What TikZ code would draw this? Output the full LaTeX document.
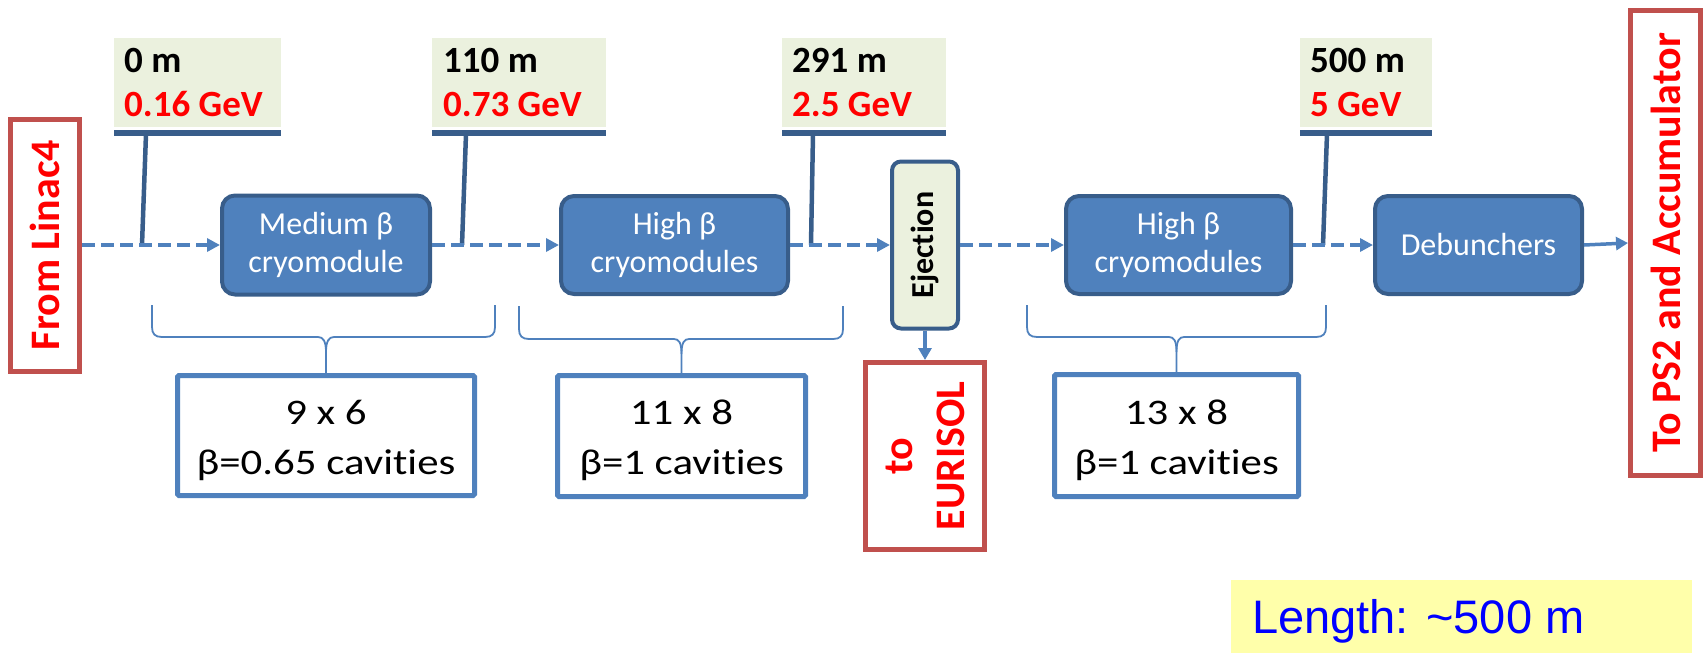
\documentclass[tikz,border=0pt]{standalone}
\usepackage{fontspec}
\setmainfont{Carlito}[Ligatures=NoCommon]
\newfontfamily\arialfont{Liberation Sans}
\usetikzlibrary{arrows.meta}

\definecolor{boxblue}{HTML}{4F81BD}
\definecolor{boxedge}{HTML}{385D8A}
\definecolor{outred}{HTML}{C0504D}
\definecolor{tagfill}{HTML}{EBF1DE}
\definecolor{notefill}{HTML}{FFFFAA}
\definecolor{notetext}{HTML}{0000FF}

\newcommand{\fsz}[1]{\fontsize{#1}{#1}\selectfont}
\newcommand{\wide}[1]{\scalebox{1.19}[1]{#1}}

\tikzset{
  cryo/.style={draw=boxedge, line width=4pt, fill=boxblue, rounded corners=13pt,
    text=white, align=center, inner sep=0pt, font=\fontsize{32}{38}\selectfont},
  ejbox/.style={draw=boxedge, line width=4pt, fill=tagfill, rounded corners=9pt, inner sep=0pt},
  outbox/.style={draw=outred, line width=5pt, fill=white, inner sep=0pt},
  outtext/.style={rotate=90, text=red, font=\bfseries\fsz{42}, inner sep=0pt},
  countbox/.style={draw=boxblue, line width=5pt, fill=white, inner sep=0pt, rounded corners=1.5pt},
  counttext/.style={anchor=base, inner sep=0pt, font=\fsz{36}},
  tag/.style={fill=tagfill, inner sep=0pt, minimum height=89pt},
  tagbar/.style={fill=boxedge, inner sep=0pt, minimum height=6pt},
  tagtext/.style={anchor=base west, inner sep=0pt, font=\bfseries\fsz{37}},
  stem/.style={draw=boxedge, line width=4.5pt},
  beam/.style={draw=boxblue, line width=4pt, dash pattern=on 13pt off 6pt,
    -{Triangle[length=13pt,width=13pt]}},
  beamsolid/.style={draw=boxblue, line width=3.5pt, -{Triangle[length=12pt,width=13pt]}},
  brace/.style={draw=boxblue, line width=1.8pt},
}

\begin{document}
\begin{tikzpicture}[x=1pt, y=-1pt]
\useasboundingbox (0,0) rectangle (1703,653);

% ---- source and destinations
\node[outbox, minimum width=69pt, minimum height=252pt] (linac) at (45,245) {};
\node[outtext] (linactxt) at (linac.center) {From Linac4};

\node[outbox, minimum width=70pt, minimum height=465pt] (ps2) at (1665.5,243) {};
\node[outtext] (ps2txt) at (ps2.center) {To PS2 and Accumulator};

\node[outbox, minimum width=119pt, minimum height=187pt] (euri) at (925,456) {};
\node[outtext, align=center, font=\bfseries\fontsize{42}{52}\selectfont] (euritxt) at (euri.center) {to\\EURISOL};

% ---- accelerating sections
\node[cryo, minimum width=208pt, minimum height=99pt] (med) at (326,245) {Medium β\\cryomodule};
\node[cryo, minimum width=227pt, minimum height=98pt] (hi1) at (674.5,245) {High β\\cryomodules};
\node[ejbox, minimum width=66pt, minimum height=167pt] (ej) at (925,245) {};
\node[rotate=90, inner sep=0pt, font=\bfseries\fsz{32}] (ejtxt) at (ej.center) {Ejection};
\node[cryo, minimum width=225pt, minimum height=98pt] (hi2) at (1178.5,245) {High β\\cryomodules};
\node[cryo, minimum width=207pt, minimum height=98pt] (deb) at (1478.5,245) {Debunchers};

% ---- position / energy tags
\node[tag, minimum width=167pt] (t1) at (197.5,82.5) {};
\node[tagbar, minimum width=167pt] (b1) at (197.5,133) {};
\node[tagtext] (t1a) at (124,72) {0 m};
\node[tagtext, text=red] (t1b) at (124,116) {0.16 GeV};

\node[tag, minimum width=174pt] (t2) at (519,82.5) {};
\node[tagbar, minimum width=174pt] (b2) at (519,133) {};
\node[tagtext] (t2a) at (443,72) {110 m};
\node[tagtext, text=red] (t2b) at (443,116) {0.73 GeV};

\node[tag, minimum width=164pt] (t3) at (864,82.5) {};
\node[tagbar, minimum width=164pt] (b3) at (864,133) {};
\node[tagtext] (t3a) at (792,72) {291 m};
\node[tagtext, text=red] (t3b) at (792,116) {2.5 GeV};

\node[tag, minimum width=132pt] (t4) at (1366,82.5) {};
\node[tagbar, minimum width=132pt] (b4) at (1366,133) {};
\node[tagtext] (t4a) at (1310,72) {500 m};
\node[tagtext, text=red] (t4b) at (1310,116) {5 GeV};

% tag stems down to the beam line
\coordinate (s1t) at (146,134); \coordinate (s1b) at (142,245);
\coordinate (s2t) at (466,134); \coordinate (s2b) at (462,245);
\coordinate (s3t) at (813,134); \coordinate (s3b) at (811,245);
\coordinate (s4t) at (1327,134); \coordinate (s4b) at (1323,245);
\draw[stem] (s1t) -- (s1b);
\draw[stem] (s2t) -- (s2b);
\draw[stem] (s3t) -- (s3b);
\draw[stem] (s4t) -- (s4b);

% ---- beam line
\draw[beam] (linac.east) -- (med.west);
\draw[beam] (med.east) -- (hi1.west);
\draw[beam] (hi1.east) -- (ej.west);
\draw[beam] (ej.east) -- (hi2.west);
\draw[beam] (hi2.east) -- (deb.west);
\draw[beamsolid] (deb.east) -- (ps2.west);
\draw[beamsolid] (ej.south) -- (euri.north);

% ---- cavity counts
\node[countbox, minimum width=297pt, minimum height=120pt] (c1) at (326,435.5) {};
\node[counttext] (c1a) at (326,424) {\wide{9 x 6}};
\node[counttext] (c1b) at (326,474) {\wide{β=0.65 cavities}};

\node[countbox, minimum width=248pt, minimum height=121pt] (c2) at (681.5,436) {};
\node[counttext] (c2a) at (681.5,424) {\wide{11 x 8}};
\node[counttext] (c2b) at (681.5,474) {\wide{β=1 cavities}};

\node[countbox, minimum width=244pt, minimum height=122pt] (c3) at (1176.5,435.5) {};
\node[counttext] (c3a) at (1176.5,424) {\wide{13 x 8}};
\node[counttext] (c3b) at (1176.5,474) {\wide{β=1 cavities}};

% ---- braces grouping the sections
\draw[brace] (152,305) -- (152,327) .. controls (152,334) and (155,337) .. (162,337)
  -- (318,337) .. controls (323,337) and (326,341) .. (326,352) -- (c1.north);
\draw[brace] (326,352) .. controls (326,341) and (329,337) .. (334,337)
  -- (485,337) .. controls (492,337) and (495,334) .. (495,327) -- (495,305);

\draw[brace] (519,306) -- (519,329) .. controls (519,336) and (522,339) .. (529,339)
  -- (674,339) .. controls (679,339) and (681.5,343) .. (681.5,354) -- (c2.north);
\draw[brace] (681.5,354) .. controls (681.5,343) and (684,339) .. (689,339)
  -- (833,339) .. controls (840,339) and (843,336) .. (843,329) -- (843,306);

\draw[brace] (1027,305) -- (1027,327) .. controls (1027,334) and (1030,337) .. (1037,337)
  -- (1169,337) .. controls (1174,337) and (1176.5,341) .. (1176.5,352) -- (c3.north);
\draw[brace] (1176.5,352) .. controls (1176.5,341) and (1179,337) .. (1184,337)
  -- (1316,337) .. controls (1323,337) and (1326,334) .. (1326,327) -- (1326,305);

% ---- total length note
\node[fill=notefill, inner sep=0pt, minimum width=461pt, minimum height=73pt] (note) at (1461.5,616) {};
\node[anchor=base west, inner sep=0pt, text=notetext, font=\arialfont\fsz{47}] (notetxt) at (1252,633) {Length: \char"7E 500 m};
\end{tikzpicture}
\end{document}
